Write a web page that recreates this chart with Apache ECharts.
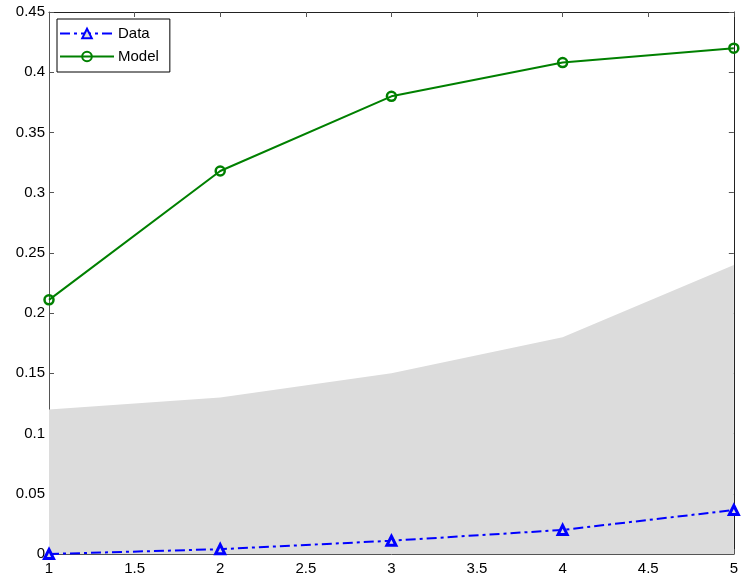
<!DOCTYPE html>
<html>
<head>
<meta charset="utf-8">
<script src="https://cdn.jsdelivr.net/npm/echarts@6/dist/echarts.min.js"></script>
<style>
  html, body { margin: 0; padding: 0; background: #fff; }
  #chart { width: 741px; height: 579px; }
</style>
</head>
<body>
<div id="chart"></div>
<script>
// Horizon steps and the three curves plotted over them
const steps = [1, 2, 3, 4, 5];
const dataValues = [0.0, 0.004, 0.011, 0.020, 0.0365];
const modelValues = [0.211, 0.318, 0.380, 0.408, 0.420];
const bandUpper = [0.12, 0.13, 0.15, 0.18, 0.24];

const pairs = (ys) => steps.map((x, i) => [x, ys[i]]);

const FONT = 'Liberation Sans, Arial, sans-serif';
const AXIS_COLOR = '#555';

const tickLabel = { color: '#000', fontSize: 15, fontFamily: FONT };

const chart = echarts.init(document.getElementById('chart'), null, { renderer: 'canvas' });

chart.setOption({
  animation: false,
  backgroundColor: '#fff',
  grid: { left: 49, right: 4, top: 12, bottom: 25, containLabel: false },
  legend: {
    data: ['Data', 'Model'],
    orient: 'vertical',
    left: 57,
    top: 19,
    itemWidth: 54,
    itemHeight: 12,
    itemGap: 8,
    padding: [7, 11, 8, 2],
    backgroundColor: '#fff',
    borderColor: '#000',
    borderWidth: 1,
    borderRadius: 0,
    textStyle: { color: '#000', fontSize: 15, fontFamily: FONT, padding: [0, 0, 0, -1] }
  },
  xAxis: [
    {
      type: 'value', min: 1, max: 5, interval: 0.5, position: 'bottom',
      axisLine: { show: true, onZero: false, lineStyle: { color: AXIS_COLOR, width: 1 } },
      axisTick: { show: true, inside: true, length: 5, lineStyle: { color: AXIS_COLOR } },
      axisLabel: Object.assign({ margin: 7 }, tickLabel),
      splitLine: { show: false }
    },
    {
      type: 'value', min: 1, max: 5, interval: 0.5, position: 'top',
      axisLine: { show: true, onZero: false, lineStyle: { color: '#222', width: 1 } },
      axisTick: { show: true, inside: true, length: 5, lineStyle: { color: AXIS_COLOR } },
      axisLabel: { show: false },
      splitLine: { show: false }
    }
  ],
  yAxis: [
    {
      type: 'value', min: 0, max: 0.45, interval: 0.05, position: 'left',
      axisLine: { show: true, onZero: false, lineStyle: { color: AXIS_COLOR, width: 1 } },
      axisTick: { show: true, inside: true, length: 5, lineStyle: { color: AXIS_COLOR } },
      axisLabel: Object.assign({ margin: 4 }, tickLabel),
      splitLine: { show: false }
    },
    {
      type: 'value', min: 0, max: 0.45, interval: 0.05, position: 'right',
      axisLine: { show: true, onZero: false, lineStyle: { color: '#222', width: 1 } },
      axisTick: { show: true, inside: true, length: 5, lineStyle: { color: AXIS_COLOR } },
      axisLabel: { show: false },
      splitLine: { show: false }
    }
  ],
  series: [
    {
      name: 'Band',
      type: 'line',
      data: pairs(bandUpper),
      showSymbol: false,
      silent: true,
      lineStyle: { width: 0, color: '#dcdcdc' },
      areaStyle: { color: '#dcdcdc', opacity: 1 },
      z: 1
    },
    {
      name: 'Data',
      type: 'line',
      data: pairs(dataValues),
      symbol: 'triangle',
      symbolSize: 9,
      color: '#0000ff',
      lineStyle: { color: '#0000ff', width: 2, type: [10, 4, 3, 4] },
      itemStyle: { color: '#dcdcdc', borderColor: '#0000ff', borderWidth: 3 },
      z: 3
    },
    {
      name: 'Model',
      type: 'line',
      data: pairs(modelValues),
      symbol: 'circle',
      symbolSize: 9,
      color: '#008000',
      lineStyle: { color: '#008000', width: 2 },
      itemStyle: { color: 'rgba(255,255,255,0)', borderColor: '#008000', borderWidth: 2.5 },
      z: 3
    }
  ]
});
</script>
</body>
</html>
